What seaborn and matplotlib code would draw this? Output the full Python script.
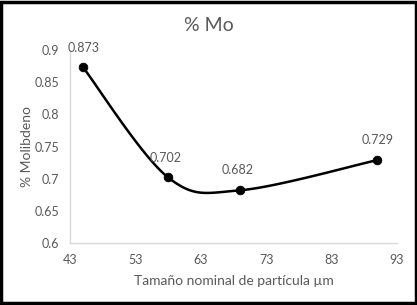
import numpy as np
import pandas as pd
import seaborn as sns
import matplotlib.pyplot as plt
from matplotlib.patches import Rectangle

# data
tamano = [45, 58, 69, 90]
molibdeno = [0.873, 0.702, 0.682, 0.729]
etiquetas = ['0.873', '0.702', '0.682', '0.729']
x_ticks = [43, 53, 63, 73, 83, 93]
y_ticks = [0.6, 0.65, 0.7, 0.75, 0.8, 0.85, 0.9]

GRAY = '#595959'
AXIS = '#d9d9d9'


def smooth_curve(xs, ys, xr, yr, n=40):
    # Excel-like smoothing: Catmull-Rom bezier, done in normalised space
    px = (np.array(xs) - xr[0]) / (xr[1] - xr[0]) * 1.6
    py = (np.array(ys) - yr[0]) / (yr[1] - yr[0])
    pts = np.column_stack([px, py])
    pts = np.vstack([pts[0], pts, pts[-1]])
    out = []
    for i in range(1, len(pts) - 2):
        p0, p1, p2, p3 = pts[i - 1], pts[i], pts[i + 1], pts[i + 2]
        c1 = p1 + (p2 - p0) / 6
        c2 = p2 - (p3 - p1) / 6
        t = np.linspace(0, 1, n)[:, None]
        seg = (1 - t) ** 3 * p1 + 3 * (1 - t) ** 2 * t * c1 + 3 * (1 - t) * t ** 2 * c2 + t ** 3 * p2
        out.append(seg if i == 1 else seg[1:])
    out = np.vstack(out)
    sx = out[:, 0] / 1.6 * (xr[1] - xr[0]) + xr[0]
    sy = out[:, 1] * (yr[1] - yr[0]) + yr[0]
    return sx, sy


def main():
    sns.set_style('white')
    plt.rcParams['font.family'] = ['Lato', 'DejaVu Sans']

    fig, ax = plt.subplots(figsize=(4.17, 3.05), dpi=100)
    fig.subplots_adjust(left=0.168, right=0.952, top=0.836, bottom=0.203)

    df = pd.DataFrame({'x': tamano, 'y': molibdeno})
    sx, sy = smooth_curve(tamano, molibdeno, (43, 93), (0.6, 0.9))
    curve = pd.DataFrame({'x': sx, 'y': sy})
    sns.lineplot(data=curve, x='x', y='y', sort=False, color='black', linewidth=1.8, ax=ax)
    sns.scatterplot(data=df, x='x', y='y', color='black', s=40, edgecolor='black', zorder=5, ax=ax)

    offsets = [(0, 10), (-2, 10), (-2, 10), (0, 10)]
    for xv, yv, lab, off in zip(tamano, molibdeno, etiquetas, offsets):
        ax.annotate(lab, (xv, yv), xytext=off, textcoords='offset points',
                    ha='center', va='bottom', fontsize=9, color=GRAY)

    ax.set_xlim(43, 93)
    ax.set_ylim(0.6, 0.9)
    ax.set_xticks(x_ticks)
    ax.set_yticks(y_ticks)
    ax.set_xticklabels([str(v) for v in x_ticks])
    ax.set_yticklabels(['0.6', '0.65', '0.7', '0.75', '0.8', '0.85', '0.9'])
    ax.tick_params(axis='both', length=0, labelsize=9, labelcolor=GRAY, pad=8)

    for side in ['top', 'right']:
        ax.spines[side].set_visible(False)
    for side in ['left', 'bottom']:
        ax.spines[side].set_color(AXIS)
        ax.spines[side].set_linewidth(1)

    ax.set_xlabel('Tamaño nominal de partícula µm', fontsize=10, color=GRAY, labelpad=6)
    ax.set_ylabel('% Molibdeno', fontsize=10, color=GRAY, labelpad=1)
    fig.suptitle('% Mo', fontsize=14, color=GRAY, y=0.945)

    fig.patches.append(Rectangle((0.003, 0.005), 0.994, 0.99, transform=fig.transFigure,
                                 fill=False, edgecolor='black', linewidth=2.5))

    fig.savefig('out.png', dpi=100)


if __name__ == '__main__':
    main()
